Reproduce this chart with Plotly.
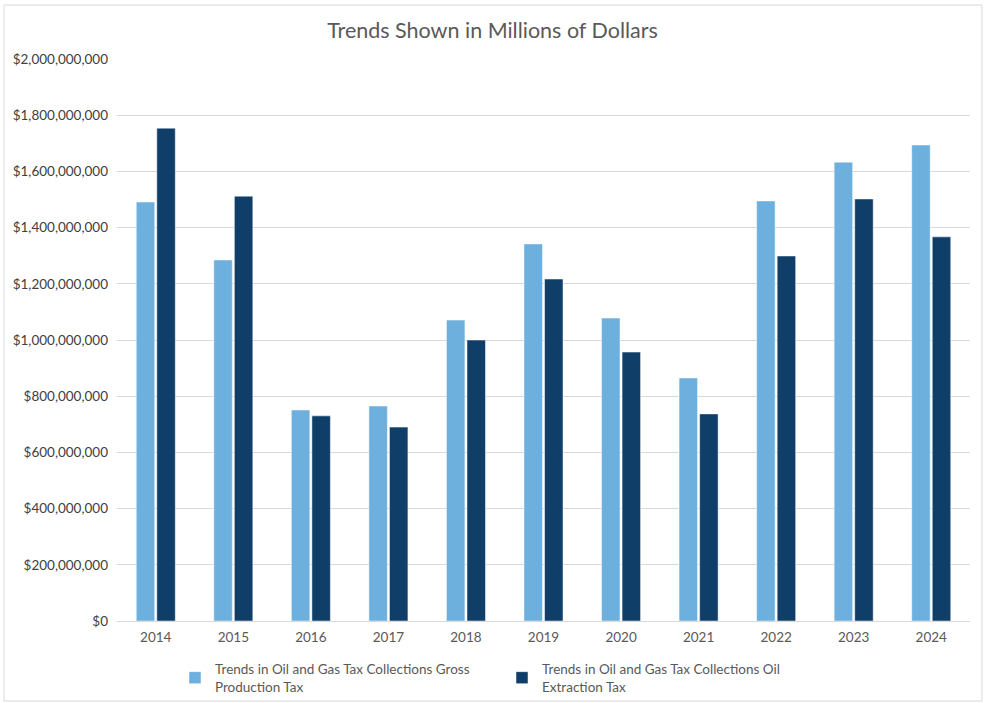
import plotly.graph_objects as go

years = ["2014", "2015", "2016", "2017", "2018", "2019", "2020", "2021", "2022", "2023", "2024"]
gross_production = [1491e6, 1285e6, 751e6, 765e6, 1071e6, 1342e6, 1078e6, 865e6, 1495e6, 1633e6, 1694e6]
oil_extraction = [1754e6, 1512e6, 730e6, 690e6, 1000e6, 1217e6, 957e6, 737e6, 1299e6, 1502e6, 1367e6]
series_names = [
    "Trends in Oil and Gas Tax Collections Gross<br>Production Tax",
    "Trends in Oil and Gas Tax Collections Oil<br>Extraction Tax",
]
y_ticks = [0, 200e6, 400e6, 600e6, 800e6, 1000e6, 1200e6, 1400e6, 1600e6, 1800e6, 2000e6]

font_family = "Lato, Noto Sans, sans-serif"

fig = go.Figure()
fig.add_trace(go.Bar(x=years, y=gross_production, name=series_names[0],
                     marker=dict(color="#6DAFDD", line=dict(color="#FFFFFF", width=0.5))))
fig.add_trace(go.Bar(x=years, y=oil_extraction, name=series_names[1],
                     marker=dict(color="#0F3E69", line=dict(color="#FFFFFF", width=0.5))))

fig.update_layout(
    width=985, height=703,
    margin=dict(l=117, r=15, t=59, b=82, autoexpand=False),
    paper_bgcolor="white", plot_bgcolor="white",
    barmode="group", bargap=0.47, bargroupgap=0.1,
    title=dict(text="Trends Shown in Millions of Dollars", x=0.5, xanchor="center",
               y=0.957, yanchor="middle",
               font=dict(family=font_family, size=21.5, color="#595959")),
    font=dict(family=font_family, size=13, color="#595959"),
    xaxis=dict(showgrid=False, showline=True, linecolor="#D9D9D9", linewidth=1,
               ticks="", ticklabelstandoff=4, automargin=False,
               tickfont=dict(size=13.5, color="#595959")),
    yaxis=dict(range=[0, 2000e6], tickvals=y_ticks, tickformat="$,.0f",
               showgrid=True, gridcolor="#D9D9D9", gridwidth=1, zeroline=False,
               showline=False, ticks="", ticklabelstandoff=8, automargin=False,
               tickfont=dict(size=13.5, color="#404040")),
    legend=dict(orientation="h", x=0.068, xanchor="left", y=-0.058, yanchor="top",
                bgcolor="rgba(0,0,0,0)",
                font=dict(size=13.5, color="#595959"), itemwidth=30,
                traceorder="normal", entrywidth=282),
    showlegend=True,
)

fig.add_shape(type="rect", xref="paper", yref="paper",
              x0=(4 - 117) / 853, x1=(982 - 117) / 853,
              y0=-(701 - 621) / 562, y1=1 + (59 - 5) / 562,
              line=dict(color="#D9D9D9", width=1), fillcolor="rgba(0,0,0,0)", layer="below")

fig.write_html("out.html")
